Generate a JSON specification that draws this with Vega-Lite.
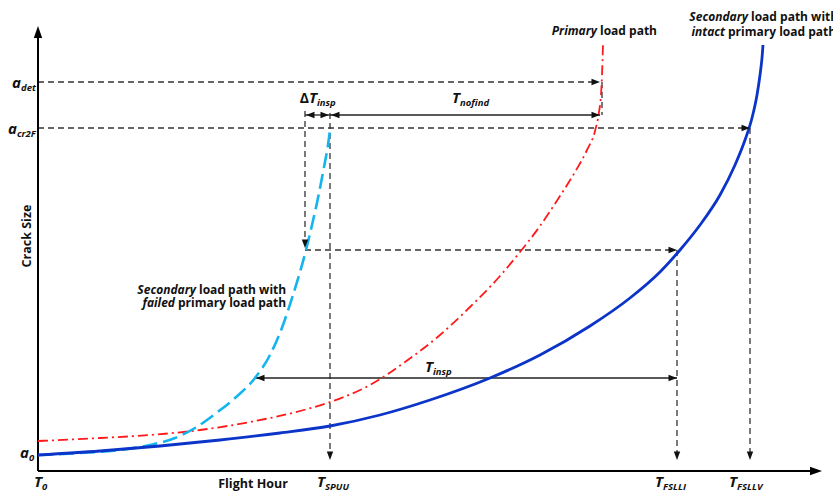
{
  "$schema": "https://vega.github.io/schema/vega-lite/v6.json",
  "width": 833,
  "height": 493,
  "padding": 0,
  "autosize": {"type": "none"},
  "background": "white",
  "config": {"view": {"stroke": null}, "font": "Open Sans"},
  "datasets": {
    "curves": [
      {"path": "intact", "h": 0, "s": 16}, {"path": "intact", "h": 62, "s": 20}, {"path": "intact", "h": 122, "s": 25},
      {"path": "intact", "h": 182, "s": 31}, {"path": "intact", "h": 242, "s": 38}, {"path": "intact", "h": 292, "s": 45},
      {"path": "intact", "h": 342, "s": 56}, {"path": "intact", "h": 392, "s": 71}, {"path": "intact", "h": 452, "s": 93},
      {"path": "intact", "h": 502, "s": 116}, {"path": "intact", "h": 552, "s": 145}, {"path": "intact", "h": 592, "s": 173},
      {"path": "intact", "h": 622, "s": 199}, {"path": "intact", "h": 642, "s": 221}, {"path": "intact", "h": 662, "s": 246},
      {"path": "intact", "h": 682, "s": 276}, {"path": "intact", "h": 697, "s": 306}, {"path": "intact", "h": 707, "s": 331},
      {"path": "intact", "h": 714, "s": 353}, {"path": "intact", "h": 719, "s": 376}, {"path": "intact", "h": 722, "s": 396},
      {"path": "intact", "h": 724, "s": 413}, {"path": "intact", "h": 725, "s": 426},
      {"path": "primary", "h": 0, "s": 30}, {"path": "primary", "h": 62, "s": 33}, {"path": "primary", "h": 112, "s": 36},
      {"path": "primary", "h": 162, "s": 41}, {"path": "primary", "h": 212, "s": 49}, {"path": "primary", "h": 262, "s": 60},
      {"path": "primary", "h": 292, "s": 69}, {"path": "primary", "h": 332, "s": 86}, {"path": "primary", "h": 367, "s": 109},
      {"path": "primary", "h": 402, "s": 136}, {"path": "primary", "h": 432, "s": 164}, {"path": "primary", "h": 462, "s": 195},
      {"path": "primary", "h": 482, "s": 219}, {"path": "primary", "h": 502, "s": 245}, {"path": "primary", "h": 522, "s": 275},
      {"path": "primary", "h": 537, "s": 299}, {"path": "primary", "h": 549, "s": 321}, {"path": "primary", "h": 557, "s": 340},
      {"path": "primary", "h": 561, "s": 359}, {"path": "primary", "h": 563, "s": 376}, {"path": "primary", "h": 564, "s": 396},
      {"path": "primary", "h": 565, "s": 426},
      {"path": "failed", "h": 0, "s": 16}, {"path": "failed", "h": 42, "s": 18}, {"path": "failed", "h": 82, "s": 21},
      {"path": "failed", "h": 112, "s": 26}, {"path": "failed", "h": 137, "s": 33}, {"path": "failed", "h": 157, "s": 43},
      {"path": "failed", "h": 177, "s": 57}, {"path": "failed", "h": 197, "s": 73}, {"path": "failed", "h": 217, "s": 93},
      {"path": "failed", "h": 232, "s": 116}, {"path": "failed", "h": 245, "s": 146}, {"path": "failed", "h": 255, "s": 176},
      {"path": "failed", "h": 262, "s": 199}, {"path": "failed", "h": 268, "s": 221}, {"path": "failed", "h": 274, "s": 246},
      {"path": "failed", "h": 280, "s": 273}, {"path": "failed", "h": 286, "s": 304}, {"path": "failed", "h": 290, "s": 326},
      {"path": "failed", "h": 292, "s": 341}
    ],
    "guides": [
      {"kind": "dashed", "h": 0, "s": 389, "h2": 556, "s2": 389},
      {"kind": "dashed", "h": 0, "s": 343, "h2": 706, "s2": 343},
      {"kind": "dashed", "h": 564, "s": 389, "h2": 564, "s2": 356},
      {"kind": "dashed", "h": 292, "s": 358, "h2": 292, "s2": 16},
      {"kind": "dashed", "h": 267, "s": 360, "h2": 267, "s2": 228},
      {"kind": "dashed", "h": 267, "s": 221, "h2": 634, "s2": 221},
      {"kind": "dashed", "h": 639, "s": 221, "h2": 639, "s2": 16},
      {"kind": "dashed", "h": 712, "s": 343, "h2": 712, "s2": 16},
      {"kind": "solid", "h": 267, "s": 356, "h2": 292, "s2": 356},
      {"kind": "solid", "h": 292, "s": 356, "h2": 562, "s2": 356},
      {"kind": "solid", "h": 217, "s": 93, "h2": 639, "s2": 93},
      {"kind": "axis", "h": 0, "s": 0, "h2": 0, "s2": 436},
      {"kind": "axis", "h": 0, "s": 0, "h2": 776, "s2": 0}
    ],
    "arrows": [
      {"dir": "right", "h": 562, "s": 389}, {"dir": "right", "h": 712, "s": 343}, {"dir": "right", "h": 562, "s": 356},
      {"dir": "right", "h": 291, "s": 356}, {"dir": "right", "h": 639, "s": 221}, {"dir": "right", "h": 639, "s": 93},
      {"dir": "left", "h": 293, "s": 356}, {"dir": "left", "h": 268, "s": 356}, {"dir": "left", "h": 218, "s": 93},
      {"dir": "down", "h": 267, "s": 223}, {"dir": "down", "h": 292, "s": 11}, {"dir": "down", "h": 639, "s": 11},
      {"dir": "down", "h": 712, "s": 11},
      {"dir": "axis-up", "h": 0, "s": 445}, {"dir": "axis-right", "h": 784, "s": 0}
    ],
    "symbols": [
      {"main": "a", "sub": "det", "h": -17, "s": 383},
      {"main": "a", "sub": "cr2F", "h": -21, "s": 337},
      {"main": "a", "sub": "0", "h": -9, "s": 13},
      {"main": "T", "sub": "0", "h": 4, "s": -16},
      {"main": "T", "sub": "SPUU", "h": 287, "s": -16},
      {"main": "T", "sub": "FSLLI", "h": 625, "s": -16},
      {"main": "T", "sub": "FSLLV", "h": 699, "s": -16},
      {"pre": "Δ", "main": "T", "sub": "insp", "h": 279, "s": 368},
      {"main": "T", "sub": "nofind", "h": 422, "s": 368},
      {"main": "T", "sub": "insp", "h": 395, "s": 99}
    ],
    "curveLabels": [
      {"emph": "Primary", "rest": "load path", "h": 560, "s": 436},
      {"emph": "Secondary", "rest": "load path with", "h": 711, "s": 450},
      {"emph": "intact", "rest": "primary load path", "h": 688, "s": 435},
      {"emph": "Secondary", "rest": "load path with", "h": 159, "s": 177},
      {"emph": "failed", "rest": "primary load path", "h": 138, "s": 164}
    ],
    "titles": [
      {"title": "Flight Hour", "h": 215, "s": -17, "orient": "x"},
      {"title": "Crack Size", "h": -11, "s": 235, "orient": "y"}
    ]
  },
  "layer": [
    {
      "data": {"name": "guides"},
      "transform": [{"filter": "datum.kind === 'dashed'"}],
      "mark": {"type": "rule", "color": "#333333", "strokeWidth": 1.3, "strokeDash": [6, 4]},
      "encoding": {
        "x": {"field": "h", "type": "quantitative", "scale": {"domain": [-38, 795], "nice": false, "zero": false}, "axis": null},
        "y": {"field": "s", "type": "quantitative", "scale": {"domain": [-22, 471], "nice": false, "zero": false}, "axis": null},
        "x2": {"field": "h2"},
        "y2": {"field": "s2"}
      }
    },
    {
      "data": {"name": "guides"},
      "transform": [{"filter": "datum.kind === 'solid'"}],
      "mark": {"type": "rule", "color": "#222222", "strokeWidth": 1.3},
      "encoding": {
        "x": {"field": "h", "type": "quantitative"},
        "y": {"field": "s", "type": "quantitative"},
        "x2": {"field": "h2"},
        "y2": {"field": "s2"}
      }
    },
    {
      "data": {"name": "guides"},
      "transform": [{"filter": "datum.kind === 'axis'"}],
      "mark": {"type": "rule", "color": "#000000", "strokeWidth": 2},
      "encoding": {
        "x": {"field": "h", "type": "quantitative"},
        "y": {"field": "s", "type": "quantitative"},
        "x2": {"field": "h2"},
        "y2": {"field": "s2"}
      }
    },
    {
      "data": {"name": "curves"},
      "transform": [{"filter": "datum.path === 'primary'"}],
      "mark": {"type": "line", "color": "#ff1a1a", "strokeWidth": 1.8, "strokeDash": [10, 4, 2, 4], "interpolate": "monotone"},
      "encoding": {
        "x": {"field": "h", "type": "quantitative"},
        "y": {"field": "s", "type": "quantitative"}
      }
    },
    {
      "data": {"name": "curves"},
      "transform": [{"filter": "datum.path === 'failed'"}],
      "mark": {"type": "line", "color": "#14b4ee", "strokeWidth": 2.6, "strokeDash": [15, 6], "interpolate": "monotone"},
      "encoding": {
        "x": {"field": "h", "type": "quantitative"},
        "y": {"field": "s", "type": "quantitative"}
      }
    },
    {
      "data": {"name": "curves"},
      "transform": [{"filter": "datum.path === 'intact'"}],
      "mark": {"type": "line", "color": "#0b34c8", "strokeWidth": 2.8, "interpolate": "monotone"},
      "encoding": {
        "x": {"field": "h", "type": "quantitative"},
        "y": {"field": "s", "type": "quantitative"}
      }
    },
    {
      "data": {"name": "arrows"},
      "transform": [{"filter": "datum.dir === 'right'"}],
      "mark": {"type": "point", "shape": "M0,0L-2,-0.75L-2,0.75Z", "size": 72, "filled": true, "color": "#111111", "opacity": 1, "strokeWidth": 0},
      "encoding": {"x": {"field": "h", "type": "quantitative"}, "y": {"field": "s", "type": "quantitative"}}
    },
    {
      "data": {"name": "arrows"},
      "transform": [{"filter": "datum.dir === 'left'"}],
      "mark": {"type": "point", "shape": "M0,0L2,-0.75L2,0.75Z", "size": 72, "filled": true, "color": "#111111", "opacity": 1, "strokeWidth": 0},
      "encoding": {"x": {"field": "h", "type": "quantitative"}, "y": {"field": "s", "type": "quantitative"}}
    },
    {
      "data": {"name": "arrows"},
      "transform": [{"filter": "datum.dir === 'down'"}],
      "mark": {"type": "point", "shape": "M0,0L-0.75,-2L0.75,-2Z", "size": 72, "filled": true, "color": "#111111", "opacity": 1, "strokeWidth": 0},
      "encoding": {"x": {"field": "h", "type": "quantitative"}, "y": {"field": "s", "type": "quantitative"}}
    },
    {
      "data": {"name": "arrows"},
      "transform": [{"filter": "datum.dir === 'axis-up'"}],
      "mark": {"type": "point", "shape": "M0,0L-0.7,2L0.7,2Z", "size": 144, "filled": true, "color": "#000000", "opacity": 1, "strokeWidth": 0},
      "encoding": {"x": {"field": "h", "type": "quantitative"}, "y": {"field": "s", "type": "quantitative"}}
    },
    {
      "data": {"name": "arrows"},
      "transform": [{"filter": "datum.dir === 'axis-right'"}],
      "mark": {"type": "point", "shape": "M0,0L-2,-0.7L-2,0.7Z", "size": 144, "filled": true, "color": "#000000", "opacity": 1, "strokeWidth": 0},
      "encoding": {"x": {"field": "h", "type": "quantitative"}, "y": {"field": "s", "type": "quantitative"}}
    },
    {
      "data": {"name": "symbols"},
      "transform": [{"filter": "datum.pre != null"}],
      "mark": {"type": "text", "align": "right", "baseline": "alphabetic", "fontWeight": "bold", "fontSize": 14, "dx": -8, "color": "#111111"},
      "encoding": {"x": {"field": "h", "type": "quantitative"}, "y": {"field": "s", "type": "quantitative"}, "text": {"field": "pre"}}
    },
    {
      "data": {"name": "symbols"},
      "mark": {"type": "text", "align": "right", "baseline": "alphabetic", "fontStyle": "italic", "fontWeight": "bold", "fontSize": 15, "color": "#111111"},
      "encoding": {"x": {"field": "h", "type": "quantitative"}, "y": {"field": "s", "type": "quantitative"}, "text": {"field": "main"}}
    },
    {
      "data": {"name": "symbols"},
      "mark": {"type": "text", "align": "left", "baseline": "alphabetic", "fontStyle": "italic", "fontWeight": "bold", "fontSize": 9.5, "dy": 3, "color": "#111111"},
      "encoding": {"x": {"field": "h", "type": "quantitative"}, "y": {"field": "s", "type": "quantitative"}, "text": {"field": "sub"}}
    },
    {
      "data": {"name": "curveLabels"},
      "mark": {"type": "text", "align": "right", "baseline": "alphabetic", "fontStyle": "italic", "fontWeight": "bold", "fontSize": 12, "dx": -1, "color": "#111111"},
      "encoding": {"x": {"field": "h", "type": "quantitative"}, "y": {"field": "s", "type": "quantitative"}, "text": {"field": "emph"}}
    },
    {
      "data": {"name": "curveLabels"},
      "mark": {"type": "text", "align": "left", "baseline": "alphabetic", "fontWeight": "bold", "fontSize": 12, "dx": 2, "color": "#111111"},
      "encoding": {"x": {"field": "h", "type": "quantitative"}, "y": {"field": "s", "type": "quantitative"}, "text": {"field": "rest"}}
    },
    {
      "data": {"name": "titles"},
      "transform": [{"filter": "datum.orient === 'x'"}],
      "mark": {"type": "text", "align": "center", "baseline": "alphabetic", "fontWeight": "bold", "fontSize": 12.5, "color": "#111111"},
      "encoding": {"x": {"field": "h", "type": "quantitative"}, "y": {"field": "s", "type": "quantitative"}, "text": {"field": "title"}}
    },
    {
      "data": {"name": "titles"},
      "transform": [{"filter": "datum.orient === 'y'"}],
      "mark": {"type": "text", "align": "center", "baseline": "middle", "angle": 270, "fontWeight": "bold", "fontSize": 12.5, "color": "#111111"},
      "encoding": {"x": {"field": "h", "type": "quantitative"}, "y": {"field": "s", "type": "quantitative"}, "text": {"field": "title"}}
    }
  ]
}
